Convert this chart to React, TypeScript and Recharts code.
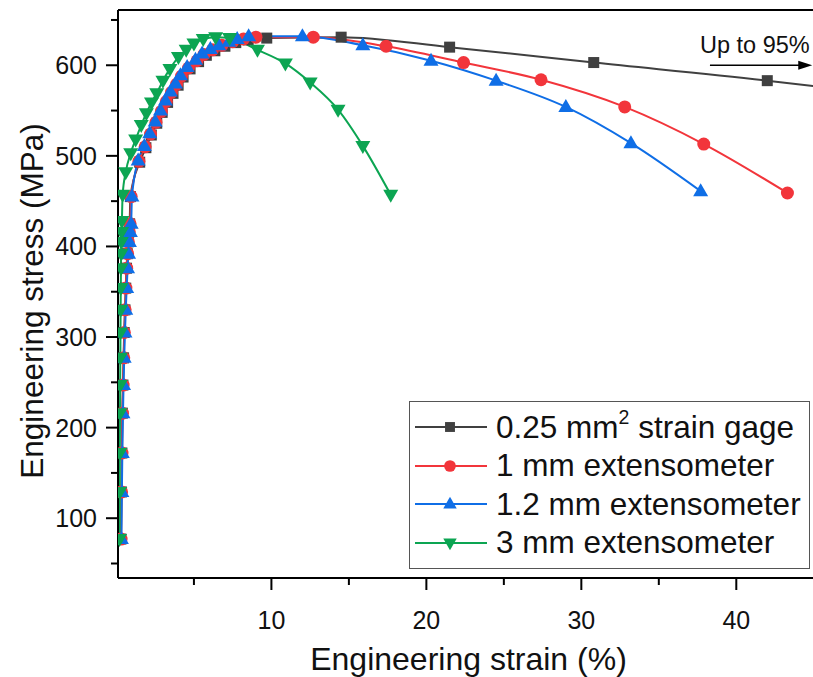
import React from 'react';
import { LineChart, Line, XAxis, YAxis, Legend, ReferenceLine } from 'recharts';

const FONT = '"Liberation Sans", Arial, Helvetica, sans-serif';

// 0.25 mm2 strain gage
const gageStrain = [0.29, 0.32, 0.35, 0.38, 0.42, 0.46, 0.5, 0.55, 0.6, 0.65, 0.7, 0.75, 0.8, 0.85,
  0.9, 1.5, 1.9, 2.25, 2.6, 2.95, 3.3, 3.65, 3.98, 4.3, 4.75, 5.3, 5.8, 6.35, 7.0, 7.7, 8.5, 9.7,
  14.5, 21.5, 30.8, 42.0, 45.0];
const gageStress = [77, 129, 172, 216, 247, 277, 305, 330, 354, 376, 392, 405, 416, 425,
  455, 493, 509, 523, 536, 548, 559, 569, 578, 587, 596, 604, 611, 616, 621, 625, 628, 630,
  631, 620, 603, 583, 577];

// 1 mm extensometer
const oneMmStrain = [0.3, 0.33, 0.36, 0.39, 0.43, 0.47, 0.51, 0.56, 0.61, 0.66, 0.72, 0.77, 0.83, 0.88,
  0.95, 1.45, 1.85, 2.2, 2.55, 2.9, 3.22, 3.55, 3.88, 4.2, 4.65, 5.2, 5.65, 6.2, 6.8, 7.5, 8.2, 9.0,
  12.7, 17.4, 22.4, 27.4, 32.8, 37.9, 43.3];
const oneMmStress = [77, 129, 172, 216, 247, 277, 305, 330, 354, 376, 392, 405, 416, 425,
  455, 494, 510, 524, 537, 549, 560, 570, 579, 588, 597, 605, 612, 617, 622, 626, 629, 631,
  631, 621, 603, 584, 554, 513, 459];

// 1.2 mm extensometer
const onePointTwoStrain = [0.32, 0.35, 0.38, 0.42, 0.46, 0.5, 0.55, 0.6, 0.66, 0.72, 0.78, 0.84, 0.9, 0.95,
  1.0, 1.4, 1.8, 2.15, 2.5, 2.84, 3.16, 3.48, 3.81, 4.13, 4.56, 5.1, 5.53, 6.06, 6.6, 7.25, 7.79, 8.53,
  12.0, 15.9, 20.3, 24.5, 29.0, 33.2, 37.7];
const onePointTwoStress = [77, 129, 172, 216, 247, 277, 305, 330, 354, 376, 392, 405, 416, 425,
  455, 495, 511, 525, 538, 550, 561, 571, 580, 589, 598, 606, 613, 618, 622, 626, 629, 632,
  632, 622, 605, 583, 554, 514, 461];

// 3 mm extensometer
const threeMmStrain = [0.2, 0.21, 0.22, 0.23, 0.24, 0.25, 0.26, 0.27, 0.28, 0.29, 0.3, 0.31, 0.33, 0.35,
  0.4, 0.6, 0.92, 1.24, 1.6, 1.93, 2.26, 2.6, 3.0, 3.45, 4.0, 4.5, 5.0, 5.6, 6.4, 7.3,
  9.1, 10.9, 12.5, 14.3, 15.9, 17.7];
const threeMmStress = [77, 129, 172, 216, 247, 277, 305, 330, 354, 376, 392, 405, 416, 428,
  457, 482, 503, 518, 534, 547, 559, 569, 583, 596, 609, 617, 624, 629, 631, 630,
  617, 602, 581, 551, 511, 457];

const xTicks = [5, 10, 15, 20, 25, 30, 35, 40];
const xLabels = [10, 20, 30, 40];
const yTicks = [50, 100, 150, 200, 250, 300, 350, 400, 450, 500, 550, 600, 650];
const yLabels = [100, 200, 300, 400, 500, 600];

// "Up to 95%" arrow
const arrowLevel = 600;
const arrowFrom = 38.3;
const arrowTo = 44.9;

const toPoints = (xs: number[], ys: number[]) => xs.map((x, i) => ({ strain: x, stress: ys[i] }));

type Marker = 'square' | 'circle' | 'up' | 'down';

const series = [
  { key: 'gage', color: '#404040', marker: 'square' as Marker, data: toPoints(gageStrain, gageStress), hideLast: true,
    label: <>0.25 mm<span style={{ fontSize: '0.62em', position: 'relative', top: '-0.7em' }}>2</span> strain gage</> },
  { key: 'one', color: '#f2353b', marker: 'circle' as Marker, data: toPoints(oneMmStrain, oneMmStress), hideLast: false,
    label: <>1 mm extensometer</> },
  { key: 'onetwo', color: '#0f6ee6', marker: 'up' as Marker, data: toPoints(onePointTwoStrain, onePointTwoStress), hideLast: false,
    label: <>1.2 mm extensometer</> },
  { key: 'three', color: '#0ca552', marker: 'down' as Marker, data: toPoints(threeMmStrain, threeMmStress), hideLast: false,
    label: <>3 mm extensometer</> },
];

const drawMarker = (marker: Marker, cx: number, cy: number, color: string, s = 1) => {
  if (marker === 'square') {
    const h = 5.5 * s;
    return <rect x={cx - h} y={cy - h} width={2 * h} height={2 * h} fill={color} />;
  }
  if (marker === 'circle') return <circle cx={cx} cy={cy} r={6.5 * s} fill={color} />;
  if (marker === 'up') {
    return <polygon points={`${cx},${cy - 8 * s} ${cx - 7.5 * s},${cy + 5 * s} ${cx + 7.5 * s},${cy + 5 * s}`} fill={color} />;
  }
  return <polygon points={`${cx},${cy + 8 * s} ${cx - 7.5 * s},${cy - 5 * s} ${cx + 7.5 * s},${cy - 5 * s}`} fill={color} />;
};

const makeDot = (marker: Marker, color: string, count: number, hideLast: boolean) => (props: any) => {
  const { cx, cy, index } = props;
  if (cx == null || cy == null || (hideLast && index === count - 1)) return <g key={`d-${index}`} />;
  return <g key={`d-${index}`}>{drawMarker(marker, cx, cy, color)}</g>;
};

const XTick = (props: any) => {
  const { x, y, payload } = props;
  const major = xLabels.includes(payload.value);
  return (
    <g>
      <line x1={x} y1={y} x2={x} y2={y + (major ? 12 : 7)} stroke="#000" strokeWidth={2} />
      {major && (
        <text x={x} y={y + 42} textAnchor="middle" dominantBaseline="central" fontFamily={FONT} fontSize={25} fill="#111">
          {payload.value}
        </text>
      )}
    </g>
  );
};

const YTick = (props: any) => {
  const { x, y, payload } = props;
  const major = yLabels.includes(payload.value);
  return (
    <g>
      <line x1={x} y1={y} x2={x - (major ? 12 : 7)} y2={y} stroke="#000" strokeWidth={2} />
      {major && (
        <text x={x - 21} y={y} textAnchor="end" dominantBaseline="central" fontFamily={FONT} fontSize={25} fill="#111">
          {payload.value}
        </text>
      )}
    </g>
  );
};

const LegendBox = () => (
  <div style={{ border: '1.5px solid #555', background: '#fff', padding: '6px 8px 6px 5px', fontFamily: FONT, fontSize: 31.5, color: '#111', width: 386 }}>
    {series.map((s) => (
      <div key={s.key} style={{ display: 'flex', alignItems: 'center', height: 38.5 }}>
        <svg width={72} height={20} style={{ flex: 'none' }}>
          <line x1={0} y1={10} x2={72} y2={10} stroke={s.color} strokeWidth={2} />
          {drawMarker(s.marker, 35, 10, s.color, 0.9)}
        </svg>
        <span style={{ marginLeft: 9, whiteSpace: 'nowrap' }}>{s.label}</span>
      </div>
    ))}
  </div>
);

export default function App() {
  return (
    <div style={{ position: 'absolute', left: 0, top: 0, width: 813, height: 677, overflow: 'hidden', background: '#fff' }}>
      <LineChart width={813} height={677} margin={{ top: 10, right: 0, bottom: 0, left: 0 }}>
        <XAxis
          type="number"
          dataKey="strain"
          domain={[0.1, 44.95]}
          ticks={xTicks}
          interval={0}
          allowDataOverflow
          height={99}
          axisLine={{ stroke: '#000', strokeWidth: 2 }}
          tickLine={false}
          tickSize={0}
          tickMargin={0}
          tick={<XTick />}
          label={{
            content: ({ viewBox }: any) => (
              <text x={viewBox.x + viewBox.width / 2 + 3} y={viewBox.y + 81} textAnchor="middle" dominantBaseline="central" fontFamily={FONT} fontSize={32} fill="#111">
                Engineering strain (%)
              </text>
            ),
          }}
        />
        <YAxis
          type="number"
          dataKey="stress"
          domain={[34, 661]}
          ticks={yTicks}
          interval={0}
          allowDataOverflow
          width={118}
          axisLine={{ stroke: '#000', strokeWidth: 2 }}
          tickLine={false}
          tickSize={0}
          tickMargin={0}
          tick={<YTick />}
          label={{
            content: ({ viewBox }: any) => {
              const cx = viewBox.x + 32;
              const cy = viewBox.y + viewBox.height / 2 + 7;
              return (
                <text x={cx} y={cy} transform={`rotate(-90, ${cx}, ${cy})`} textAnchor="middle" dominantBaseline="central" fontFamily={FONT} fontSize={31.5} fill="#111">
                  Engineering stress (MPa)
                </text>
              );
            },
          }}
        />
        <ReferenceLine y={661} stroke="#000" strokeWidth={2} ifOverflow="visible" />
        {series.map((s) => (
          <Line
            key={s.key}
            data={s.data}
            dataKey="stress"
            type="monotone"
            stroke={s.color}
            strokeWidth={2}
            dot={makeDot(s.marker, s.color, s.data.length, s.hideLast)}
            activeDot={false}
            isAnimationActive={false}
            legendType="none"
          />
        ))}
        <ReferenceLine
          segment={[{ x: arrowFrom, y: arrowLevel }, { x: arrowTo, y: arrowLevel }]}
          ifOverflow="visible"
          shape={(p: any) => (
            <g>
              <line x1={p.x1} y1={p.y1} x2={p.x2 - 10} y2={p.y2} stroke="#000" strokeWidth={1.5} />
              <polygon points={`${p.x2},${p.y2} ${p.x2 - 14},${p.y2 - 4.5} ${p.x2 - 14},${p.y2 + 4.5}`} fill="#000" />
              <text x={p.x1 - 10} y={p.y1 - 12} fontFamily={FONT} fontSize={23.5} fill="#111">Up to 95%</text>
            </g>
          )}
        />
        <Legend
          layout="horizontal"
          verticalAlign="middle"
          align="center"
          wrapperStyle={{ left: 409, top: 401, width: 'auto' }}
          content={() => <LegendBox />}
        />
      </LineChart>
    </div>
  );
}
